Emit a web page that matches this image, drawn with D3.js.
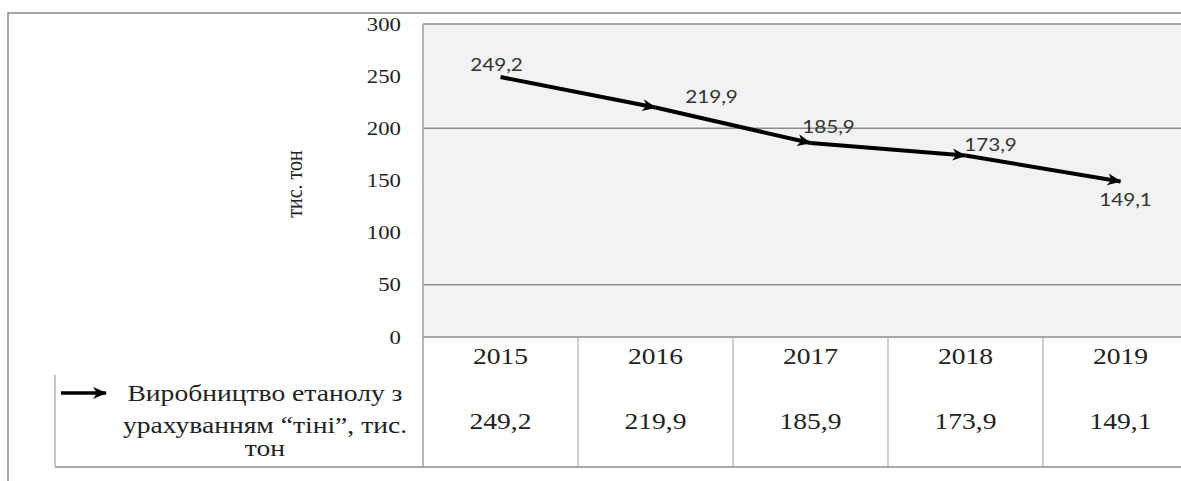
<!DOCTYPE html>
<html>
<head>
<meta charset="utf-8">
<script src="https://cdn.jsdelivr.net/npm/d3@7"></script>
<style>
  body { margin: 0; background: #fff; }
  svg { display: block; }
</style>
</head>
<body>
<script>
var years = ["2015", "2016", "2017", "2018", "2019"];
var production = [249.2, 219.9, 185.9, 173.9, 149.1];
var yTicks = [0, 50, 100, 150, 200, 250, 300];
var gridValues = [0, 50, 200, 300];
var seriesName = ["Виробництво етанолу з", "урахуванням “тіні”, тис.", "тон"];
var yTitle = "тис. тон";

var width = 1181,
    height = 481;
var SERIF = "'Liberation Serif', 'Times New Roman', serif";
var SANS = "Lato, 'Open Sans', sans-serif";

// the scanned original is a bit wider than tall, so stretch text sideways
var stretchK = 1.2;
function stretch(sel, k) {
  sel.each(function() {
    var x0 = +d3.select(this).attr("x") || 0;
    d3.select(this).attr("transform",
      "translate(" + x0 + ",0) scale(" + k + ",1) translate(" + (-x0) + ",0)");
  });
}
function fmt(v) { return d3.format(".1f")(v).replace(".", ","); }

var svg = d3.select("body").append("svg")
    .attr("width", width)
    .attr("height", height);

var x = d3.scaleBand()
    .domain(years)
    .range([423, 423 + 5 * 155]);
var y = d3.scaleLinear()
    .domain([0, 300])
    .range([337, 24]);
var cx = function(d) { return x(d) + x.bandwidth() / 2; };

svg.append("defs").append("marker")
    .attr("id", "arr")
    .attr("markerUnits", "userSpaceOnUse")
    .attr("viewBox", "-14 -7 16 14")
    .attr("markerWidth", 16)
    .attr("markerHeight", 14)
    .attr("refX", 0)
    .attr("refY", 0)
    .attr("orient", "auto")
  .append("path")
    .attr("d", "M-13,-6L1,0L-13,6L-9,0Z")
    .attr("fill", "#000");

// outer frame
svg.append("path")
    .attr("d", "M8," + height + "V13H" + width)
    .attr("fill", "none")
    .attr("stroke", "#8a8a8a")
    .attr("stroke-width", 1.5);

// plot area
svg.append("rect")
    .attr("x", 423).attr("y", y(300))
    .attr("width", width - 423).attr("height", y(0) - y(300))
    .attr("fill", "#f2f2f2");

svg.selectAll(".grid")
    .data(gridValues)
  .enter().append("line")
    .attr("x1", 423).attr("x2", width)
    .attr("y1", function(d) { return y(d); })
    .attr("y2", function(d) { return y(d); })
    .attr("stroke", "#8c8c8c")
    .attr("stroke-width", 1.5);

// table lines
svg.append("line")
    .attr("x1", 423).attr("x2", 423)
    .attr("y1", y(300)).attr("y2", 467)
    .attr("stroke", "#a0a0a0").attr("stroke-width", 1.5);
svg.selectAll(".sep")
    .data(years.slice(1))
  .enter().append("line")
    .attr("x1", function(d) { return x(d); })
    .attr("x2", function(d) { return x(d); })
    .attr("y1", y(0)).attr("y2", 467)
    .attr("stroke", "#b0b0b0").attr("stroke-width", 1.2);
svg.append("line")
    .attr("x1", 55).attr("x2", width)
    .attr("y1", 467).attr("y2", 467)
    .attr("stroke", "#8c8c8c").attr("stroke-width", 1.5);
svg.append("line")
    .attr("x1", 55).attr("x2", 55)
    .attr("y1", 375).attr("y2", 467)
    .attr("stroke", "#a0a0a0").attr("stroke-width", 1.2);

// y axis
var yAxis = svg.append("g")
    .attr("transform", "translate(423,0)")
    .call(d3.axisLeft(y).tickValues(yTicks).tickSize(0).tickPadding(22));
yAxis.select(".domain").remove();
yAxis.selectAll("text")
    .style("font-family", SERIF)
    .style("font-size", "19px")
    .attr("fill", "#222")
    .call(stretch, stretchK);

svg.append("text")
    .attr("transform", "translate(294,184) rotate(-90) scale(1,1.15)")
    .attr("text-anchor", "middle")
    .attr("dy", "0.35em")
    .style("font-family", SERIF)
    .style("font-size", "20px")
    .attr("fill", "#222")
    .text(yTitle);

// line with arrows on each segment
var line = d3.line()
    .x(function(d) { return cx(d.year); })
    .y(function(d) { return y(d.value); });
var pts = years.map(function(yr, i) { return { year: yr, value: production[i] }; });

svg.selectAll(".seg")
    .data(d3.pairs(pts))
  .enter().append("path")
    .attr("d", line)
    .attr("fill", "none")
    .attr("stroke", "#000")
    .attr("stroke-width", 4)
    .attr("marker-end", "url(#arr)");

// data labels
var labelNudge = [[-4, -12], [56, -11], [18, -16], [25, -11], [5, 18]];
svg.selectAll(".lbl")
    .data(pts)
  .enter().append("text")
    .attr("x", function(d, i) { return cx(d.year) + labelNudge[i][0]; })
    .attr("y", function(d, i) { return y(d.value) + labelNudge[i][1]; })
    .attr("dy", "0.35em")
    .attr("text-anchor", "middle")
    .style("font-family", SANS)
    .style("font-size", "18px")
    .attr("fill", "#333")
    .text(function(d) { return fmt(d.value); })
    .call(stretch, 1.15);

// table: years and values
svg.selectAll(".yr")
    .data(years)
  .enter().append("text")
    .attr("x", cx)
    .attr("y", 356)
    .attr("dy", "0.35em")
    .attr("text-anchor", "middle")
    .style("font-family", SERIF)
    .style("font-size", "23px")
    .attr("fill", "#222")
    .text(function(d) { return d; })
    .call(stretch, stretchK);

svg.selectAll(".val")
    .data(pts)
  .enter().append("text")
    .attr("x", function(d) { return cx(d.year); })
    .attr("y", 421)
    .attr("dy", "0.35em")
    .attr("text-anchor", "middle")
    .style("font-family", SERIF)
    .style("font-size", "23px")
    .attr("fill", "#222")
    .text(function(d) { return fmt(d.value); })
    .call(stretch, stretchK);

// legend cell
svg.append("line")
    .attr("x1", 61).attr("x2", 106)
    .attr("y1", 393).attr("y2", 393)
    .attr("stroke", "#000")
    .attr("stroke-width", 3.5)
    .attr("marker-end", "url(#arr)");

var legY = [393, 425, 448];
svg.selectAll(".leg")
    .data(seriesName)
  .enter().append("text")
    .attr("x", 265)
    .attr("y", function(d, i) { return legY[i]; })
    .attr("dy", "0.35em")
    .attr("text-anchor", "middle")
    .style("font-family", SERIF)
    .style("font-size", "23px")
    .attr("fill", "#222")
    .text(function(d) { return d; })
    .call(stretch, stretchK);
</script>
</body>
</html>
